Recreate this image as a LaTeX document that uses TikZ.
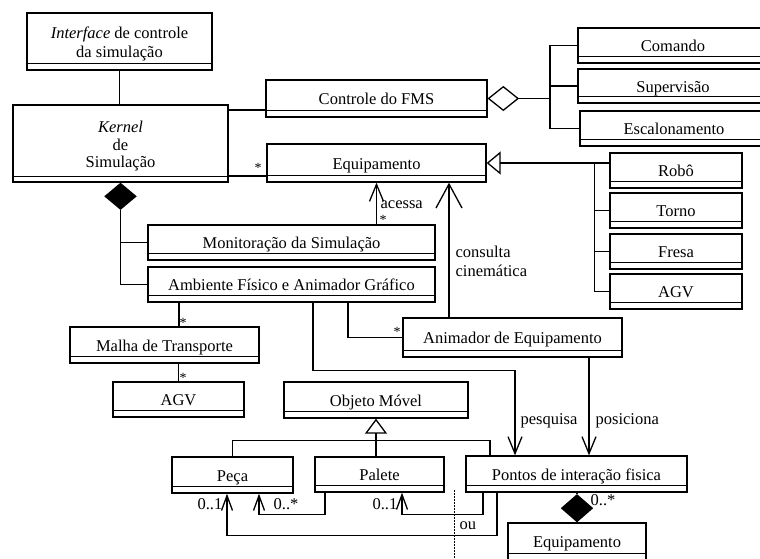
\documentclass[tikz,border=0pt]{standalone}
\usepackage{fontspec}
\setmainfont{Liberation Serif}
\usetikzlibrary{arrows.meta,shapes.geometric}

% class box: name, x1, y1, x2, y2, title; a thin empty compartment sits at the bottom
\newcommand\umlclass[6]{%
  \pgfmathsetmacro\clsw{#4-#2}%
  \pgfmathsetmacro\clsh{#5-#3}%
  \pgfmathsetmacro\clsth{(\clsh-7)/2+9.5}%
  \pgfmathsetmacro\clstd{\clsh-\clsth}%
  \node[cls, minimum width=\clsw pt, text height=\clsth pt, text depth=\clstd pt]
    (#1) at ({(#2+#4)/2},{(#3+#5)/2}) {#6};
  \draw[sep] ([yshift=7pt]#1.south west) -- ([yshift=7pt]#1.south east);
}

\begin{document}
\begin{tikzpicture}[x=1pt,y=-1pt,
  font=\fontsize{16.5}{19}\selectfont,
  line width=1.3pt,
  cls/.style={draw, fill=white, inner xsep=2pt, inner ysep=0pt},
  sep/.style={line width=1.1pt},
  lbl/.style={inner sep=0pt},
  mult/.style={inner sep=0pt, font=\fontsize{14}{14}\selectfont},
  hdiam/.style={draw, fill=white, diamond, inner sep=0pt, minimum width=30pt, minimum height=24pt},
  fdiam/.style={draw, fill=black, diamond, inner sep=0pt, minimum width=31pt, minimum height=26pt},
  gen/.style={-{Triangle[open, length=14pt, width=23pt]}},
  genb/.style={-{Triangle[open, length=15pt, width=22pt]}},
  navb/.style={-{Straight Barb[length=24pt, width=26pt]}},
  navs/.style={-{Straight Barb[length=17pt, width=14pt]}},
  navsm/.style={-{Straight Barb[length=15pt, width=11pt]}},
  alt/.style={line width=0.8pt, dash pattern=on 1.5pt off 1.5pt}
]
\useasboundingbox (0,0) rectangle (760,558);
\clip (0,0) rectangle (760,558);

% ---- classes ----
\node[cls, minimum width=185pt, minimum height=57pt] (iface) at (119.5,41.5) {};
\node[lbl, align=center] (ifacetxt) at ([yshift=-2.5pt]iface.center)
  {\textit{Interface} de controle\\da simulação};
\draw[sep] ([yshift=7pt]iface.south west) -- ([yshift=7pt]iface.south east);
\node[cls, minimum width=215pt, minimum height=77pt] (kernel) at (120.5,143.5) {};
\node[lbl, align=center, font=\fontsize{16.5}{17.5}\selectfont] (kerneltxt) at ([yshift=-3pt]kernel.center)
  {\textit{Kernel}\\de\\Simulação};
\draw[sep] ([yshift=6pt]kernel.south west) -- ([yshift=6pt]kernel.south east);

\umlclass{fms}{266}{80}{487}{117}{Controle do FMS}
\umlclass{comando}{578}{28}{768}{63}{Comando}
\umlclass{superv}{578}{69}{768}{103}{Supervisão}
\umlclass{escal}{580}{111}{768}{146}{Escalonamento}
\umlclass{equip}{267}{144}{486}{182}{Equipamento}
\umlclass{robo}{610}{153}{742}{188}{Robô}
\umlclass{torno}{610}{193}{742}{228}{Torno}
\umlclass{fresa}{610}{234}{742}{269}{Fresa}
\umlclass{agvr}{610}{274}{742}{309}{AGV}
\umlclass{monit}{148}{225}{435}{260}{Monitoração da Simulação}
\umlclass{amb}{148}{267}{435}{302}{Ambiente Físico e Animador Gráfico}
\umlclass{malha}{70}{327}{259}{363}{Malha de Transporte}
\umlclass{agvl}{113}{382}{244}{417}{AGV}
\umlclass{anim}{403}{318}{622}{357}{Animador de Equipamento}
\umlclass{objeto}{284}{382}{468}{418}{Objeto Móvel}
\umlclass{peca}{172}{457}{293}{493}{Peça}
\umlclass{palete}{315}{457}{444}{492}{Palete}
\umlclass{pontos}{466}{456}{687}{492}{Pontos de interação fisica}
\umlclass{equipb}{508}{523}{646}{560}{Equipamento}

% ---- interface / kernel ----
\draw (iface.south) -- (iface.south |- kernel.north);
\draw ([yshift=-11.5pt]fms.west) -- ([yshift=-11.5pt]fms.west -| kernel.east);
\draw ([yshift=-13pt]equip.west) -- ([yshift=-13pt]equip.west -| kernel.east);
\node[mult] (s1) at (258,168) {*};

% ---- FMS control aggregation ----
\node[hdiam, anchor=west] (agg1) at (fms.east) {};
\coordinate (bus1) at ([xshift=31pt]agg1.east);
\draw (agg1.east) -- (bus1);
\draw (comando.west) -- (comando.west -| bus1) -- (escal.west -| bus1) -- (escal.west);
\draw (superv.west) -- (superv.west -| bus1);

% ---- equipment specialisations ----
\coordinate (g1) at ([xshift=108pt]equip.east);
\draw[gen] (g1) -- (equip.east);
\draw (robo.west |- g1) -- (g1) -- (g1 |- agvr.west) -- (agvr.west);
\draw (torno.west) -- (torno.west -| g1);
\draw (fresa.west) -- (fresa.west -| g1);

% ---- kernel composition ----
\node[fdiam, anchor=north] (comp1) at (kernel.south) {};
\draw (comp1.south) |- (amb.west);
\draw (monit.west) -| (comp1.south);

% ---- navigations ----
\draw[navs] (monit.north -| equip.south) -- (equip.south);
\node[lbl, anchor=west] (lacessa) at (380,205) {acessa};
\node[mult] (s2) at (383,220) {*};

\draw[navb] ([xshift=-63.5pt]anim.north) -- ([xshift=-63.5pt]anim.north |- equip.south);
\node[lbl, anchor=west, align=left] (lcons) at (455,261) {consulta\\cinemática};

\draw ([xshift=-112.5pt]amb.south) -- ([xshift=-112.5pt]amb.south |- malha.north);
\node[mult] (s3) at (183,323) {*};
\draw (agvl.north) -- (agvl.north |- malha.south);
\node[mult] (s4) at (183,378) {*};

\draw ([xshift=56.5pt]amb.south) |- (anim.west);
\node[mult] (s5) at (397,332) {*};

\draw[navs] ([xshift=21.5pt]amb.south) -- ++(0,68) -| ([xshift=-61.5pt]pontos.north);
\node[lbl, anchor=west] (lpesq) at (520,421) {pesquisa};
\draw[navs] ([xshift=76.5pt]anim.south) -- ([xshift=76.5pt]anim.south |- pontos.north);
\node[lbl, anchor=west] (lpos) at (595,421) {posiciona};

% ---- movable objects ----
\draw[genb] (objeto.south |- palete.north) -- (objeto.south);
\draw (peca.north) -- ++(0,-16) -| ([xshift=-86.5pt]pontos.north);

\draw[navsm] ([xshift=-79.5pt]pontos.south) -- ++(0,43) -| ([xshift=-5.5pt]peca.south);
\node[lbl, anchor=east] (m1) at (223,504) {0..1};
\draw[navsm] ([xshift=-54.5pt]palete.south) -- ++(0,22) -| ([xshift=26.5pt]peca.south);
\node[lbl, anchor=west] (m2) at (273,504) {0..*};
\draw[navsm] ([xshift=-93.5pt]pontos.south) -- ++(0,22) -| ([xshift=22.5pt]palete.south);
\node[lbl, anchor=east] (m3) at (398,504) {0..1};

\coordinate (d1) at (454,490);
\coordinate (d2) at (454,560);
\draw[alt] (d1) -- (d2);
\node[lbl, anchor=west] (lou) at (459,526) {ou};

% ---- interaction points composition ----
\node[fdiam, anchor=south, minimum height=27pt] (comp2) at (equipb.north) {};
\draw (pontos.south -| comp2.north) -- (comp2.north);
\node[lbl, anchor=west] (m4) at (590,500) {0..*};
\end{tikzpicture}
\end{document}
